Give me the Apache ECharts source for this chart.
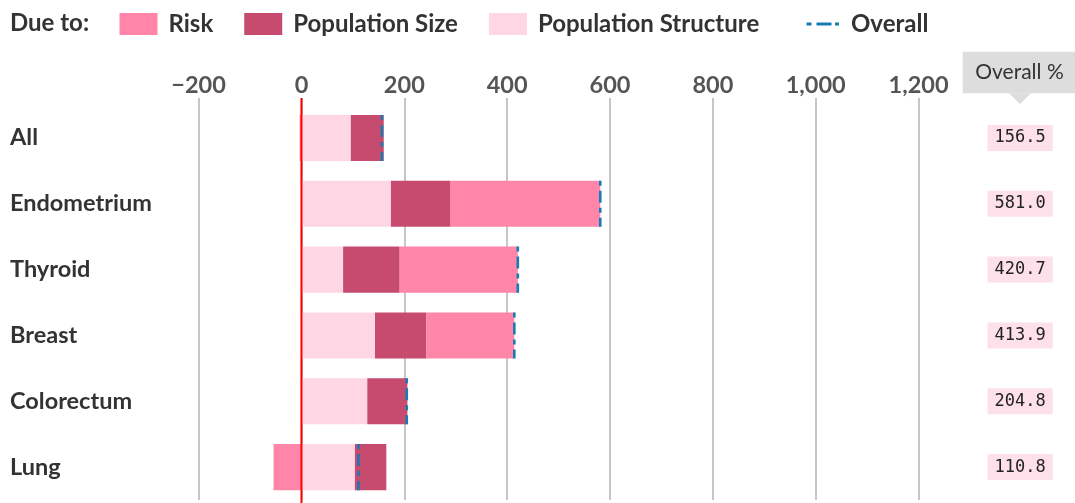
<!DOCTYPE html>
<html>
<head>
<meta charset="utf-8">
<script src="https://cdn.jsdelivr.net/npm/echarts@6/dist/echarts.min.js"></script>
<style>
  html, body { margin: 0; padding: 0; background: #fff; }
  #chart { width: 1075px; height: 503px; }
</style>
</head>
<body>
<div id="chart"></div>
<script>
// Contributions to the change in cancer cases, by site (%)
const categories = ['All', 'Endometrium', 'Thyroid', 'Breast', 'Colorectum', 'Lung'];
const structure = [96, 174, 81, 143, 128, 104];
const popSize = [64, 116, 110, 100, 78, 61];
const risk = [-3.5, 291, 229.7, 170.9, -1.2, -54.2];
const overall = [156.5, 581.0, 420.7, 413.9, 204.8, 110.8];
const xTicks = { min: -200, max: 1200, step: 200 };

const SANS = 'Lato';
const COLORS = { risk: '#ff86a9', size: '#c64b6f', structure: '#ffd6e3', overall: '#1a7ab5' };

const chart = echarts.init(document.getElementById('chart'), null, { renderer: 'canvas' });

const GRID = { left: 198.6, top: 105, width: 720, height: 395 };

// dash-dot legend glyph, bounding box kept at 34x22 by two tiny corner specks
const dashDotIcon = 'path://M0,0h0.01v0.01h-0.01Z M33.99,21.99h0.01v0.01h-0.01Z ' +
  'M0.5,9.5h5v3h-5Z M10.5,9.5h15v3h-15Z M29,9.5h4v3h-4Z';

function fmtTick(v) {
  if (v < 0) return '\u2212' + Math.abs(v).toLocaleString('en-US');
  return v.toLocaleString('en-US');
}

const legendText = { fontFamily: SANS, fontWeight: 'bold', fontSize: 24, color: '#333', padding: [0, 0, 0, 6] };

const option = {
  animation: false,
  backgroundColor: '#fff',
  grid: GRID,
  legend: [
    {
      left: 119.5,
      top: 12,
      padding: 0,
      itemWidth: 38,
      itemHeight: 22,
      itemGap: 31,
      selectedMode: false,
      textStyle: legendText,
      data: [
        { name: 'Risk', icon: 'rect' },
        { name: 'Population Size', icon: 'rect' },
        { name: 'Population Structure', icon: 'rect' }
      ]
    },
    {
      left: 806,
      top: 12,
      padding: 0,
      itemWidth: 34,
      itemHeight: 22,
      selectedMode: false,
      textStyle: legendText,
      data: [{ name: 'Overall', icon: dashDotIcon }]
    }
  ],
  xAxis: {
    type: 'value',
    position: 'top',
    min: xTicks.min,
    max: xTicks.max,
    interval: xTicks.step,
    axisLine: { show: false },
    axisTick: { show: true, length: 7, lineStyle: { color: '#b8b8b8', width: 1.6 } },
    splitLine: { show: true, lineStyle: { color: '#b8b8b8', width: 1.6 } },
    axisLabel: {
      margin: 8,
      fontFamily: SANS, fontWeight: 'bold', fontSize: 23.5, color: '#555',
      formatter: fmtTick
    }
  },
  yAxis: [
    {
      type: 'category',
      data: categories,
      inverse: true,
      axisLine: { show: false },
      axisTick: { show: false },
      splitLine: { show: false },
      axisLabel: {
        interval: 0,
        align: 'left',
        margin: GRID.left - 10,
        fontFamily: SANS, fontWeight: 'bold', fontSize: 23.5, color: '#333'
      }
    },
    {
      type: 'category',
      data: overall.map(v => v.toFixed(1)),
      inverse: true,
      position: 'right',
      axisLine: { show: false },
      axisTick: { show: false },
      splitLine: { show: false },
      axisLabel: {
        interval: 0,
        align: 'center',
        margin: 101.5,
        fontFamily: 'DejaVu Sans Mono', fontSize: 17, color: '#222',
        backgroundColor: '#fde0ea',
        padding: [4, 7, 4, 7],
        lineHeight: 18
      }
    }
  ],
  series: [
    {
      name: 'Population Structure',
      type: 'bar',
      stack: 'total',
      barWidth: '70%',
      itemStyle: { color: COLORS.structure },
      data: structure
    },
    {
      name: 'Population Size',
      type: 'bar',
      stack: 'total',
      barWidth: '70%',
      itemStyle: { color: COLORS.size },
      data: popSize
    },
    {
      name: 'Risk',
      type: 'bar',
      stack: 'total',
      barWidth: '70%',
      itemStyle: { color: COLORS.risk },
      data: risk
    },
    {
      name: 'Overall',
      type: 'custom',
      z: 5,
      itemStyle: { color: COLORS.overall },
      encode: { x: 0, y: 1 },
      data: overall.map((v, i) => [v, i]),
      renderItem: function (params, api) {
        const p = api.coord([api.value(0), api.value(1)]);
        const h = api.size([0, 1])[1] * 0.7;
        return {
          type: 'line',
          shape: { x1: p[0], y1: p[1] - h / 2, x2: p[0], y2: p[1] + h / 2 },
          style: { stroke: COLORS.overall, lineWidth: 2.6, lineDash: [5, 5, 12, 5] }
        };
      }
    }
  ]
};

chart.setOption(option);

// zero baseline and the "Overall %" column heading
const zeroX = chart.convertToPixel({ xAxisIndex: 0 }, 0);
chart.setOption({
  graphic: [
    {
      type: 'text', x: 10, y: 23, z: 10,
      style: { text: 'Due to:', fontFamily: SANS, fontWeight: 'bold', fontSize: 24, fill: '#333', verticalAlign: 'middle' }
    },
    {
      type: 'line', z: 100,
      shape: { x1: zeroX, y1: 98, x2: zeroX, y2: 503 },
      style: { stroke: '#ff0000', lineWidth: 2 }
    },
    {
      type: 'rect', z: 10,
      shape: { x: 962.7, y: 51.7, width: 112.3, height: 41.6 },
      style: { fill: '#dddddd' }
    },
    {
      type: 'polygon', z: 10,
      shape: { points: [[1009, 93.3], [1031, 93.3], [1020, 104]] },
      style: { fill: '#dddddd' }
    },
    {
      type: 'text', z: 11, x: 1019.5, y: 72.5,
      style: { text: 'Overall %', fontFamily: SANS, fontSize: 21, fill: '#333', align: 'center', verticalAlign: 'middle' }
    }
  ]
});
</script>
</body>
</html>
